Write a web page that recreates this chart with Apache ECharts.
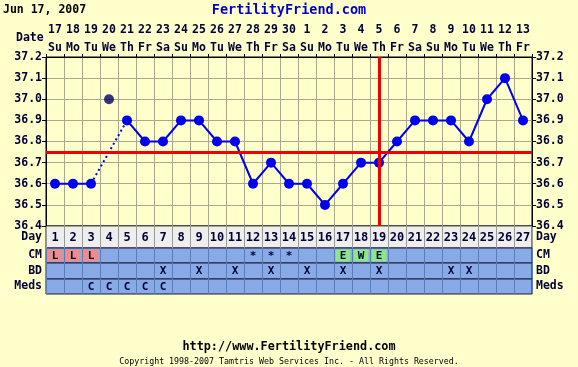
<!DOCTYPE html>
<html><head><meta charset="utf-8">
<script src="https://cdn.jsdelivr.net/npm/echarts@6/dist/echarts.min.js"></script>
<style>html,body{margin:0;padding:0;background:#FFFFCC;}#c{width:578px;height:367px;}</style>
</head><body><div id="c"></div>
<script>
const dates = ['17','18','19','20','21','22','23','24','25','26','27','28','29','30','1','2','3','4','5','6','7','8','9','10','11','12','13'];
const weekdays = ['Su','Mo','Tu','We','Th','Fr','Sa','Su','Mo','Tu','We','Th','Fr','Sa','Su','Mo','Tu','We','Th','Fr','Sa','Su','Mo','Tu','We','Th','Fr'];
const cycleDays = ['1','2','3','4','5','6','7','8','9','10','11','12','13','14','15','16','17','18','19','20','21','22','23','24','25','26','27'];
const temps = [36.6,36.6,36.6,37.0,36.9,36.8,36.8,36.9,36.9,36.8,36.8,36.6,36.7,36.6,36.6,36.5,36.6,36.7,36.7,36.8,36.9,36.9,36.9,36.8,37.0,37.1,36.9];
const discardedDays = [4];
const coverline = 36.75;
const ovulationDay = 19;
const yTicks = [36.4,36.5,36.6,36.7,36.8,36.9,37.0,37.1,37.2];
const cm = ['L','L','L','','','','','','','','','*','*','*','','','E','W','E','','','','','','','',''];
const bd = ['','','','','','','X','','X','','X','','X','','X','','X','','X','','','','X','X','','',''];
const meds = ['','','C','C','C','C','C','','','','','','','','','','','','','','','','','','','',''];

const FONT = '"DejaVu Sans Mono", monospace';
const TXT = '#000033';
const isDisc = i => discardedDays.indexOf(i + 1) >= 0;
const solid = temps.map((v, i) => isDisc(i) ? null : v);
const dotted = temps.map((v, i) => {
  if (isDisc(i)) return null;
  if ((i > 0 && isDisc(i - 1)) || (i < temps.length - 1 && isDisc(i + 1))) return v;
  return null;
});
const disc = temps.map((v, i) => isDisc(i) ? v : null);

const cellColors = {L: '#EE8C8C', E: '#8CE68C', W: '#8CE68C'};

const rows = [
  {name: 'Day', top: 226, height: 22, bg: '#EEEEEE', split: '#999999', texts: cycleDays, size: 12},
  {name: 'CM', top: 248, height: 15, bg: '#88AAE6', split: '#5A7DB8', texts: cm, size: 11},
  {name: 'BD', top: 263, height: 16, bg: '#88AAE6', split: '#5A7DB8', texts: bd, size: 11},
  {name: 'Meds', top: 279, height: 15, bg: '#88AAE6', split: '#5A7DB8', texts: meds, size: 11}
];

const grids = [{left: 46, right: 46, top: 57, height: 169, show: true, borderColor: '#000', borderWidth: 1, backgroundColor: 'transparent'}];
const xAxes = [{
  type: 'category', gridIndex: 0, data: dates, position: 'top', boundaryGap: true,
  axisLine: {show: true, lineStyle: {color: '#000'}},
  axisTick: {show: true, interval: 0, length: 3, lineStyle: {color: '#000'}},
  splitLine: {show: true, interval: 0, lineStyle: {color: '#A8A88C', width: 1}},
  axisLabel: {interval: 0, margin: 0, color: TXT, fontFamily: FONT, fontWeight: 'bold', fontSize: 11.5, lineHeight: 18,
    formatter: (v, i) => dates[i] + '\n' + weekdays[i]}
}];
const yCommon = {
  type: 'value', gridIndex: 0, min: yTicks[0], max: yTicks[yTicks.length - 1], interval: 0.1,
  axisLine: {show: true, lineStyle: {color: '#000'}},
  axisTick: {show: true, length: 4, lineStyle: {color: '#000'}},
  axisLabel: {margin: 4, color: TXT, fontFamily: FONT, fontWeight: 'bold', fontSize: 11.5, formatter: v => v.toFixed(1)}
};
const yAxes = [
  Object.assign({}, yCommon, {position: 'left', splitLine: {show: true, lineStyle: {color: '#A8A88C'}}}),
  Object.assign({}, yCommon, {position: 'right', splitLine: {show: false}})
];
const series = [
  {type: 'line', xAxisIndex: 0, yAxisIndex: 0, data: dotted, connectNulls: true, showSymbol: false, symbol: 'none',
    lineStyle: {color: '#0000EE', width: 2, type: [2, 3]}, z: 3, silent: true},
  {type: 'line', xAxisIndex: 0, yAxisIndex: 0, data: solid, connectNulls: false, symbol: 'circle', symbolSize: 10,
    itemStyle: {color: '#0000EE'}, lineStyle: {color: '#0000EE', width: 2}, z: 4},
  {type: 'scatter', xAxisIndex: 0, yAxisIndex: 0, data: disc, symbol: 'circle', symbolSize: 10,
    itemStyle: {color: '#000066'}, z: 4},
  {type: 'line', xAxisIndex: 0, yAxisIndex: 0, data: [], z: 5,
    markLine: {silent: true, symbol: 'none', label: {show: false}, animation: false,
      lineStyle: {color: '#EE0000', width: 3, type: 'solid'},
      data: [{yAxis: coverline}, {xAxis: ovulationDay - 1}]}}
];

rows.forEach((r, k) => {
  const g = k + 1;
  grids.push({left: 46, right: 46, top: r.top, height: r.height, show: true, backgroundColor: r.bg, borderColor: '#1A1A3A', borderWidth: 1});
  xAxes.push({type: 'category', gridIndex: g, data: cycleDays, boundaryGap: true,
    axisLine: {show: false}, axisTick: {show: false}, axisLabel: {show: false},
    splitLine: {show: true, interval: 0, lineStyle: {color: r.split}}});
  const yl = {type: 'value', gridIndex: g, min: 0, max: 2, interval: 1,
    axisLine: {show: false}, axisTick: {show: false}, splitLine: {show: false},
    axisLabel: {margin: 4, color: TXT, fontFamily: FONT, fontWeight: 'bold', fontSize: 11.5,
      formatter: v => v === 1 ? r.name : ''}};
  yAxes.push(Object.assign({}, yl, {position: 'left'}));
  yAxes.push(Object.assign({}, yl, {position: 'right'}));
  const texts = r.texts;
  series.push({
    type: 'custom', xAxisIndex: g, yAxisIndex: yAxes.length - 2, silent: true,
    data: texts.map((t, i) => [i, 1]),
    renderItem: (params, api) => {
      const i = params.dataIndex;
      const c = api.coord([api.value(0), 1]);
      const s = api.size([1, 2]);
      const children = [];
      const t = texts[i];
      if (k > 0 && cellColors[t]) {
        children.push({type: 'rect', shape: {x: c[0] - s[0] / 2 + 1.5, y: c[1] - s[1] / 2 + 1.5, width: s[0] - 3, height: s[1] - 3},
          style: {fill: cellColors[t]}});
      }
      if (t) {
        children.push({type: 'text', x: c[0], y: c[1] + 0.5,
          style: {text: t, fill: TXT, font: 'bold ' + r.size + 'px ' + FONT, align: 'center', verticalAlign: 'middle'}});
      }
      return {type: 'group', children: children};
    }
  });
});

const chart = echarts.init(document.getElementById('c'), null, {renderer: 'canvas'});
chart.setOption({
  backgroundColor: '#FFFFCC',
  animation: false,
  grid: grids, xAxis: xAxes, yAxis: yAxes, series: series,
  graphic: [
    {type: 'text', left: 3, top: 4, style: {text: 'Jun 17, 2007', fill: '#000', font: 'bold 11.5px ' + FONT}},
    {type: 'text', left: 'center', top: 3, style: {text: 'FertilityFriend.com', fill: '#0000CC', font: 'bold 13.5px ' + FONT}},
    {type: 'text', left: 16, top: 32, style: {text: 'Date', fill: TXT, font: 'bold 11.5px ' + FONT}},
    {type: 'text', left: 'center', top: 341, style: {text: 'http://www.FertilityFriend.com', fill: '#000', font: 'bold 11.8px ' + FONT}},
    {type: 'text', left: 'center', top: 358, style: {text: 'Copyright 1998-2007 Tamtris Web Services Inc. - All Rights Reserved.', fill: '#000', font: '8.3px ' + FONT}}
  ]
});
</script></body></html>
